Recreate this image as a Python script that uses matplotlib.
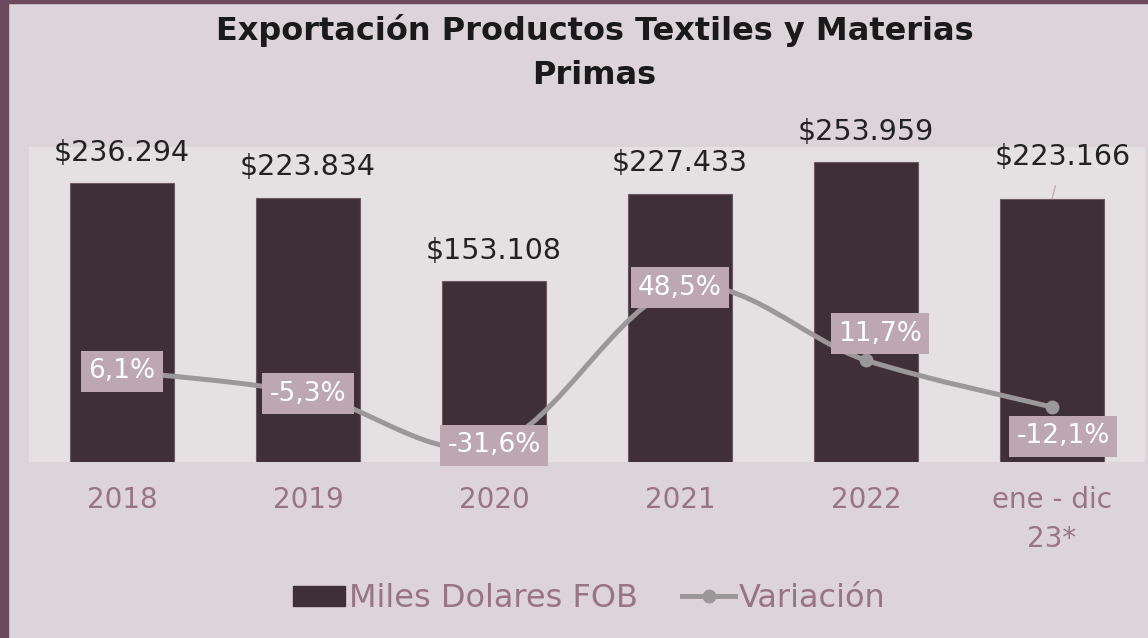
import matplotlib.pyplot as plt
from matplotlib.patches import Rectangle, PathPatch
from matplotlib.path import Path
from matplotlib.lines import Line2D
import numpy as np

categorias = ["2018", "2019", "2020", "2021", "2022", "ene - dic\n23*"]
miles_fob = [236294, 223834, 153108, 227433, 253959, 223166]
variacion = [6.1, -5.3, -31.6, 48.5, 11.7, -12.1]
etiquetas_fob = ["$236.294", "$223.834", "$153.108", "$227.433", "$253.959", "$223.166"]
etiquetas_var = ["6,1%", "-5,3%", "-31,6%", "48,5%", "11,7%", "-12,1%"]

bar_col = "#3f3037"
line_col = "#9c9799"
box_col = "#bda8b2"
mauve = "#987484"

plt.rcParams['font.family'] = ['DejaVu Sans']

fig = plt.figure(figsize=(11.48, 6.38), dpi=100)
fig.patch.set_facecolor("#ddd4d9")
# borde oscuro izquierda / arriba
fig.patches.append(Rectangle((0, 0), 8 / 1148, 1, transform=fig.transFigure, color="#6a4a5c", zorder=0))
fig.patches.append(Rectangle((0, 1 - 3 / 638), 1, 3 / 638, transform=fig.transFigure, color="#6a4a5c", zorder=0))

ax = fig.add_axes([29 / 1148, 176 / 638, 1116 / 1148, 315 / 638])
ax.set_facecolor("#e5e0e2")
x = np.arange(len(categorias))
ax.bar(x, miles_fob, width=0.554, color=bar_col, edgecolor="#6b5861", linewidth=0.8, zorder=2)
ax.set_xlim(-0.5, 5.5)
ax.set_ylim(0, 267000)
ax.set_yticks([])
ax.set_xticks(x)
ax.set_xticklabels(categorias, fontsize=20, color=mauve, linespacing=1.5)
ax.tick_params(axis='x', length=0, pad=17)
for s in ax.spines.values():
    s.set_visible(False)

# etiquetas de valor
for i in range(5):
    ax.annotate(etiquetas_fob[i], (x[i], miles_fob[i]), xytext=(0, 22), textcoords="offset points",
                ha="center", va="center", fontsize=20.5, color="#222222", zorder=5)
ax.annotate(etiquetas_fob[5], (x[5], miles_fob[5]), xytext=(8, 30), textcoords="offset points",
            ha="center", va="center", fontsize=20.5, color="#222222", zorder=5,
            arrowprops=dict(arrowstyle="-", color="#c7acb9", lw=1, shrinkA=9, shrinkB=0))

ax2 = ax.twinx()
ax2.set_ylim(-40, 120)
ax2.set_yticks([])
for s in ax2.spines.values():
    s.set_visible(False)

# linea suavizada (bezier tipo Excel)
pts = np.column_stack([x, variacion]).astype(float)
verts = [tuple(pts[0])]
codes = [Path.MOVETO]
n = len(pts)
for i in range(n - 1):
    p0 = pts[i - 1] if i > 0 else pts[i]
    p1 = pts[i]
    p2 = pts[i + 1]
    p3 = pts[i + 2] if i + 2 < n else pts[i + 1]
    c1 = p1 + (p2 - p0) / 6
    c2 = p2 - (p3 - p1) / 6
    verts += [tuple(c1), tuple(c2), tuple(p2)]
    codes += [Path.CURVE4] * 3
ax2.add_patch(PathPatch(Path(verts, codes), fill=False, edgecolor=line_col, lw=3.6,
                        capstyle="round", zorder=3))
ax2.plot(x, variacion, "o", color=line_col, markersize=9, zorder=3)

offsets = [(0, 0), (0, 0), (0, 0), (0, 0), (10, 19), (8, -21)]
for i in range(n):
    ax2.annotate(etiquetas_var[i], (x[i], variacion[i]), xytext=offsets[i], textcoords="offset points",
                 ha="center", va="center", fontsize=19, color="white", zorder=6,
                 bbox=dict(boxstyle="square,pad=0.28", fc=box_col, ec="none"))

fig.text(0.518, 0.952, "Exportación Productos Textiles y Materias", ha="center", va="center",
         fontsize=23, fontweight="bold", color="#1a1a1a")
fig.text(0.518, 0.882, "Primas", ha="center", va="center",
         fontsize=23, fontweight="bold", color="#1a1a1a")

handles = [Rectangle((0, 0), 1, 1, color=bar_col),
           Line2D([], [], color=line_col, lw=3.6, marker="o", markersize=9)]
leg = fig.legend(handles, ["Miles Dolares FOB", "Variación"], loc="center", bbox_to_anchor=(0.513, 0.062),
                 ncol=2, frameon=False, fontsize=23, handlelength=1.65, handleheight=0.6,
                 handletextpad=0.1, columnspacing=1.4)
for t in leg.get_texts():
    t.set_color(mauve)

plt.savefig("out.png", dpi=100, facecolor=fig.get_facecolor())
